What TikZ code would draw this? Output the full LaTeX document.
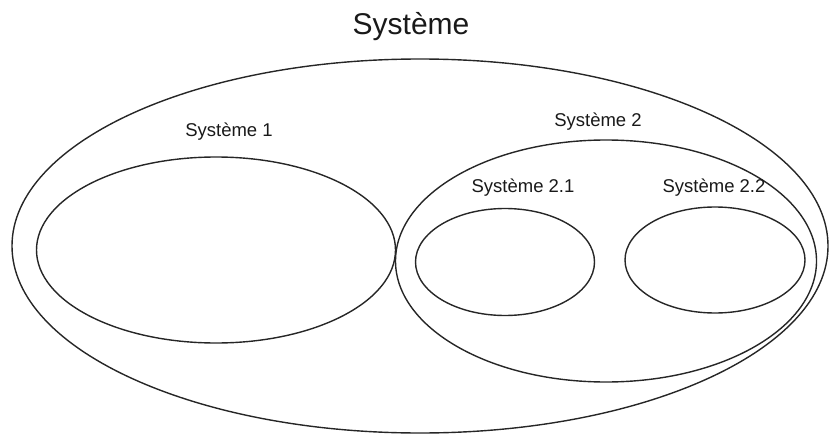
\documentclass[tikz,border=0pt]{standalone}
\usepackage{fontspec}
\setmainfont{Liberation Sans}
\usetikzlibrary{shapes.geometric}
\begin{document}
\begin{tikzpicture}[x=1pt,y=1pt,
  sys/.style={draw=black!85, line width=1.4pt, ellipse, inner sep=0pt, outer sep=0pt},
  lbl/.style={anchor=base, text=black!90, inner sep=0pt, font=\fontsize{18.5}{20}\selectfont},
  ttl/.style={anchor=base, text=black!90, inner sep=0pt, font=\fontsize{30}{32}\selectfont}]
\useasboundingbox (0,0) rectangle (829,437);
\node[sys, minimum width=816pt, minimum height=374pt] (sys) at (420,191) {};
\node[sys, minimum width=359pt, minimum height=186pt] (s1) at (216,187) {};
\node[sys, minimum width=421pt, minimum height=242pt] (s2) at (606,176) {};
\node[sys, minimum width=179pt, minimum height=107pt] (s21) at (505,175) {};
\node[sys, minimum width=180pt, minimum height=106pt] (s22) at (715,177) {};
\node[ttl] (tsys) at (411,402) {Système};
\node[lbl] (ts1) at (229,300) {Système 1};
\node[lbl] (ts2) at (598,310) {Système 2};
\node[lbl] (ts21) at (523,244) {Système 2.1};
\node[lbl] (ts22) at (714,244) {Système 2.2};
\end{tikzpicture}
\end{document}
